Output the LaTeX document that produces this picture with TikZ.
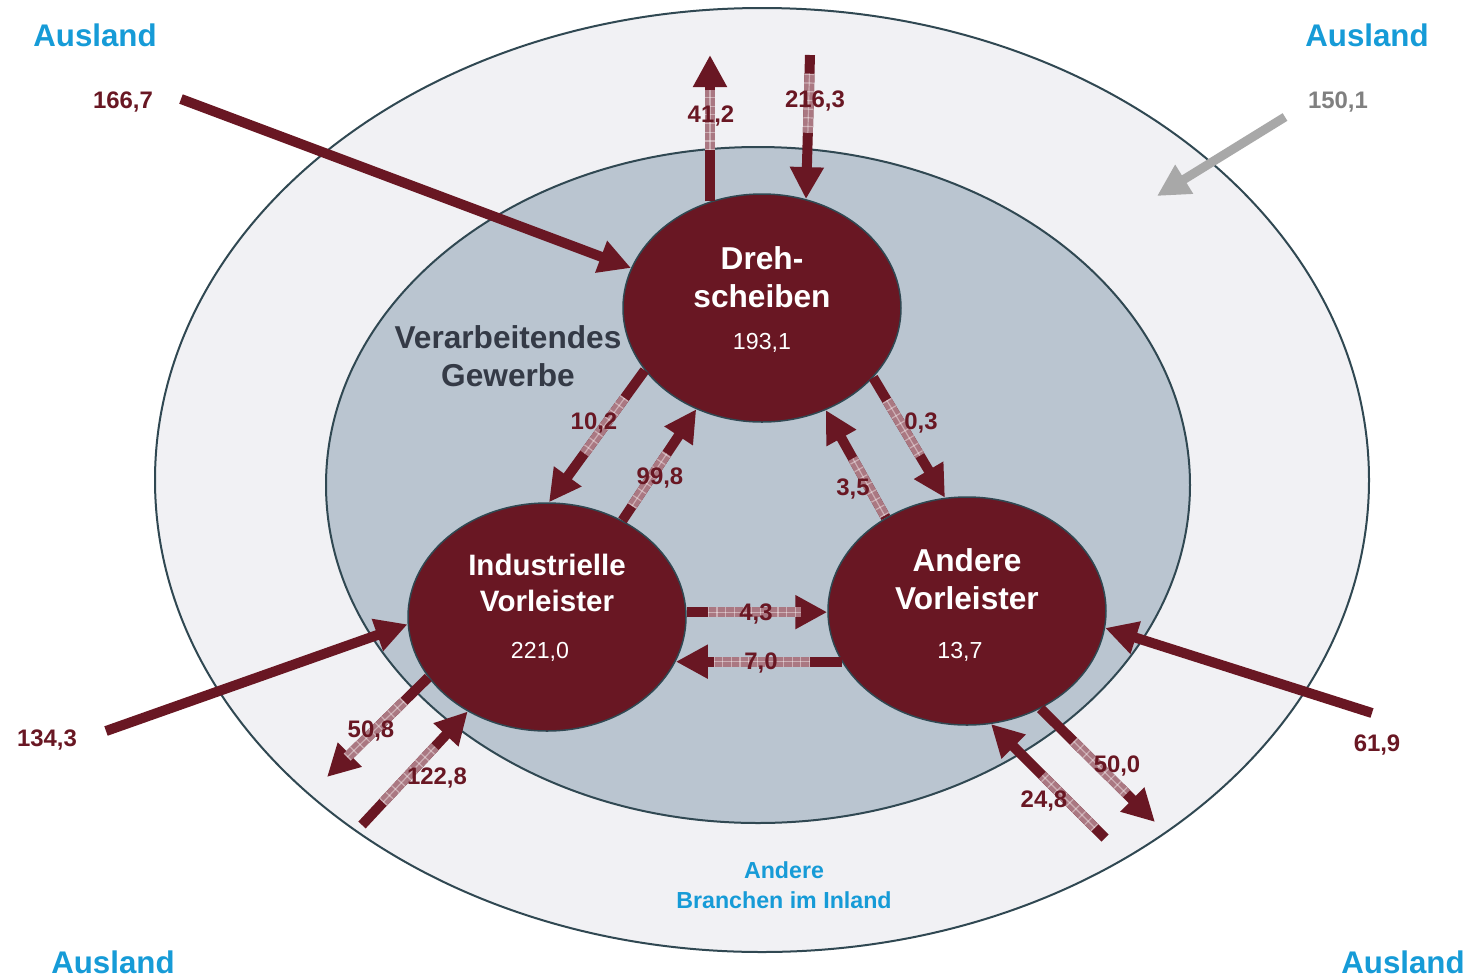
\documentclass[tikz,border=0pt]{standalone}
\usepackage{fontspec}
\setmainfont{Liberation Sans}
\usetikzlibrary{positioning,shapes.geometric,arrows.meta,calc}

\tikzset{
  unitnode/.style={draw=rimgray, line width=0.15mm, fill=unitred, ellipse, minimum width=27.8mm, minimum height=22.8mm, inner sep=0pt},
  unitname/.style={text=white, font=\fontsize{9}{10.8}\selectfont\bfseries, align=center},
  unitvalue/.style={text=white, font=\fontsize{6.6}{8}\selectfont},
  flowarrow/.style={draw=unitred, line width=1mm, -{Triangle[length=3.2mm,width=3.2mm]}},
  hatchseg/.style={draw=hatchred, line width=1mm,
    postaction={draw=white, draw opacity=0.4, dash pattern=on 0.12mm off 0.75mm},
    postaction={draw=white, draw opacity=0.4, line width=0.12mm}},
  amountlabel/.style={text=unitred, font=\fontsize{6.8}{8}\selectfont\bfseries},
  regionlabel/.style={text=skyblue, font=\fontsize{8.9}{10}\selectfont\bfseries}
}

\begin{document}
\begin{tikzpicture}[x=0.1mm, y=-0.1mm]

  % Colors
  \definecolor{unitred}{RGB}{105,23,35}
  \definecolor{hatchred}{RGB}{170,120,130}
  \definecolor{rimgray}{RGB}{48,72,82}
  \definecolor{outerfill}{RGB}{241,241,244}
  \definecolor{innerfill}{RGB}{186,197,208}
  \definecolor{skyblue}{RGB}{22,155,215}
  \definecolor{sectorgray}{RGB}{52,58,70}
  \definecolor{importgray}{RGB}{168,168,168}

  % Canvas
  \fill[white] (0,0) rectangle (1470,977);
  \useasboundingbox (0,0) rectangle (1470,977);

  % Rings
  \draw[draw=rimgray, line width=0.2mm, fill=outerfill] (762,480) ellipse [x radius=607, y radius=472];
  \draw[draw=rimgray, line width=0.2mm, fill=innerfill] (758,485) ellipse [x radius=432, y radius=338];

  % Units
  \node (dreh) [unitnode] at (762,308) {};
  \node (indus) [unitnode] at (547,617) {};
  \node (andere) [unitnode] at (967,611) {};

  \node (dreh-name) [unitname] at (762,277) {Dreh-\\scheiben};
  \node (dreh-value) [unitvalue] at (762,343) {193,1};
  \node (indus-name) [unitname, font=\fontsize{8.4}{10}\selectfont\bfseries] at (547,583) {Industrielle\\Vorleister};
  \node (indus-value) [unitvalue] at (540,652) {221,0};
  \node (andere-name) [unitname] at (967,579) {Andere\\Vorleister};
  \node (andere-value) [unitvalue] at (960,652) {13,7};

  % Free ends
  \coordinate (in167) at (181,99);
  \coordinate (in150a) at (1285,117);
  \coordinate (in150b) at (1157,196);
  \coordinate (out412) at (710,55);
  \coordinate (in2163) at (810,55);
  \coordinate (out508) at (327,777);
  \coordinate (in1228) at (362,825);
  \coordinate (in1343) at (106,731);
  \coordinate (in619) at (1372,713);
  \coordinate (in248) at (1105,838);
  \coordinate (out500) at (1155,822);

  % Connections
  \draw[flowarrow] (in167) -- (dreh.163);
  \draw[flowarrow, draw=importgray, line width=0.9mm] (in150a) -- (in150b);

  \draw[flowarrow] (out412 |- dreh.116) -- (out412);
  \draw[hatchseg] ($(out412 |- dreh.116)!0.35!(out412)$) -- ($(out412 |- dreh.116)!0.76!(out412)$);
  \draw[flowarrow] (in2163) -- (dreh.68);
  \draw[hatchseg] ($(in2163)!0.13!(dreh.68)$) -- ($(in2163)!0.54!(dreh.68)$);

  \draw[flowarrow] (dreh.208) -- (indus.89);
  \draw[hatchseg] ($(dreh.208)!0.21!(indus.89)$) -- ($(dreh.208)!0.63!(indus.89)$);
  \draw[flowarrow] (indus.52) -- (dreh.237);
  \draw[hatchseg] ($(indus.52)!0.13!(dreh.237)$) -- ($(indus.52)!0.6!(dreh.237)$);

  \draw[flowarrow] (dreh.328) -- (andere.101);
  \draw[hatchseg] ($(dreh.328)!0.19!(andere.101)$) -- ($(dreh.328)!0.65!(andere.101)$);
  \draw[flowarrow] (andere.131) -- (dreh.302);
  \draw[hatchseg] ($(andere.131)!0.02!(dreh.302)$) -- ($(andere.131)!0.55!(dreh.302)$);

  \draw[flowarrow] (indus.2) -- (indus.2 -| andere.west);
  \draw[hatchseg] ($(indus.2)!0.15!(indus.2 -| andere.west)$) -- ($(indus.2)!0.81!(indus.2 -| andere.west)$);
  \draw[flowarrow] (andere.202) -- (andere.202 -| indus.341);
  \draw[hatchseg] ($(andere.202)!0.19!(andere.202 -| indus.341)$) -- ($(andere.202)!0.77!(andere.202 -| indus.341)$);

  \draw[flowarrow] (indus.207) -- (out508);
  \draw[hatchseg] ($(indus.207)!0.24!(out508)$) -- ($(indus.207)!0.8!(out508)$);
  \draw[flowarrow] (in1228) -- (indus.230);
  \draw[hatchseg] ($(in1228)!0.2!(indus.230)$) -- ($(in1228)!0.69!(indus.230)$);
  \draw[flowarrow] (in1343) -- (indus.183);

  \draw[flowarrow] (in619) -- (andere.353);
  \draw[flowarrow] (in248) -- (andere.282);
  \draw[hatchseg] ($(in248)!0.09!(andere.282)$) -- ($(in248)!0.55!(andere.282)$);
  \draw[flowarrow] (andere.307) -- (out500);
  \draw[hatchseg] ($(andere.307)!0.29!(out500)$) -- ($(andere.307)!0.75!(out500)$);

  % Amounts
  \node (a1667) [amountlabel] at (123,102) {166,7};
  \node (a1501) [amountlabel, text=gray] at (1338,102) {150,1};
  \node (a412) [amountlabel] at (711,116) {41,2};
  \node (a2163) [amountlabel] at (815,101) {216,3};
  \node (a102) [amountlabel] at (594,423) {10,2};
  \node (a998) [amountlabel] at (660,478) {99,8};
  \node (a03) [amountlabel] at (921,423) {0,3};
  \node (a35) [amountlabel] at (853,489) {3,5};
  \node (a43) [amountlabel] at (756,614) {4,3};
  \node (a70) [amountlabel] at (761,663) {7,0};
  \node (a508) [amountlabel] at (371,731) {50,8};
  \node (a1228) [amountlabel] at (437,778) {122,8};
  \node (a1343) [amountlabel] at (47,740) {134,3};
  \node (a619) [amountlabel] at (1377,745) {61,9};
  \node (a248) [amountlabel] at (1044,801) {24,8};
  \node (a500) [amountlabel] at (1117,766) {50,0};

  % Labels
  \node (sector) [unitname, text=sectorgray] at (508,356) {Verarbeitendes\\Gewerbe};
  \node (domestic) [regionlabel, font=\fontsize{6.6}{8.5}\selectfont\bfseries, align=center] at (784,885) {Andere\\Branchen im Inland};
  \node (abroad-nw) [regionlabel] at (95,35) {Ausland};
  \node (abroad-ne) [regionlabel] at (1367,35) {Ausland};
  \node (abroad-sw) [regionlabel] at (113,962) {Ausland};
  \node (abroad-se) [regionlabel] at (1403,962) {Ausland};

\end{tikzpicture}
\end{document}
